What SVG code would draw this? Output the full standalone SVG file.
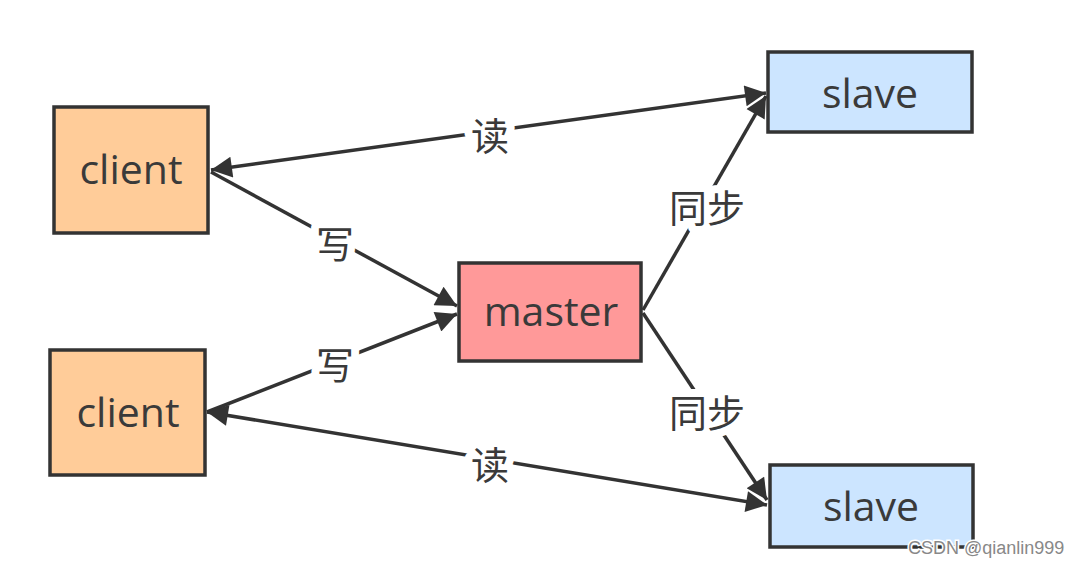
<svg xmlns="http://www.w3.org/2000/svg" width="1091" height="566" viewBox="0 0 1091 566">
<style>
.box{stroke:#333;stroke-width:3.5}
.client{fill:#ffcc99}
.master{fill:#ff9999}
.slave{fill:#cce5ff}
.t{font-family:"Open Sans","Noto Sans","Liberation Sans",sans-serif;font-size:41px;fill:#3a3a3a;text-anchor:middle;dominant-baseline:central}
.e{stroke:#333;stroke-width:3.5;fill:none}
.lb{font-family:"Noto Sans CJK SC","Noto Sans",sans-serif;font-size:38px;fill:#3a3a3a;text-anchor:middle;dominant-baseline:central;stroke:#fff;stroke-width:16;paint-order:stroke;stroke-linejoin:round}
.wm{font-family:"Liberation Sans",Arial,sans-serif;font-size:18px;fill:#888;stroke:#fff;stroke-width:3;paint-order:stroke}
</style>
<defs>
<marker id="ah" viewBox="0 0 10 10" refX="10" refY="5" markerWidth="7.5" markerHeight="6" markerUnits="strokeWidth" orient="auto-start-reverse">
<path d="M0,0 L10,5 L0,10 z" fill="#333"/>
</marker>
</defs>
<g id="connectors">
<line class="e" x1="211" y1="170" x2="766" y2="93" marker-start="url(#ah)" marker-end="url(#ah)"/>
<line class="e" x1="211" y1="172" x2="457" y2="306" marker-end="url(#ah)"/>
<line class="e" x1="207" y1="412" x2="457" y2="314" marker-end="url(#ah)"/>
<line class="e" x1="207" y1="412" x2="767" y2="505" marker-start="url(#ah)" marker-end="url(#ah)"/>
<line class="e" x1="643" y1="310" x2="766" y2="96" marker-end="url(#ah)"/>
<line class="e" x1="643" y1="313" x2="767" y2="500" marker-end="url(#ah)"/>
<text class="lb" x="490" y="133">读</text>
<text class="lb" x="335" y="241">写</text>
<text class="lb" x="335" y="362">写</text>
<text class="lb" x="490" y="462">读</text>
<text class="lb" x="707" y="205">同步</text>
<text class="lb" x="707" y="410">同步</text>
</g>
<g id="client1"><rect class="box client" x="54" y="107" width="154" height="126"/><text class="t" x="131" y="168">client</text></g>
<g id="client2"><rect class="box client" x="50" y="350" width="155" height="125"/><text class="t" x="128" y="411">client</text></g>
<g id="master"><rect class="box master" x="459" y="263" width="182" height="98"/><text class="t" x="551" y="310">master</text></g>
<g id="slave1"><rect class="box slave" x="768" y="52" width="204" height="80"/><text class="t" x="870" y="92">slave</text></g>
<g id="slave2"><rect class="box slave" x="770" y="465" width="203" height="82"/><text class="t" x="871" y="505">slave</text></g>
<text class="wm" x="908" y="554">CSDN @qianlin999</text>
</svg>
